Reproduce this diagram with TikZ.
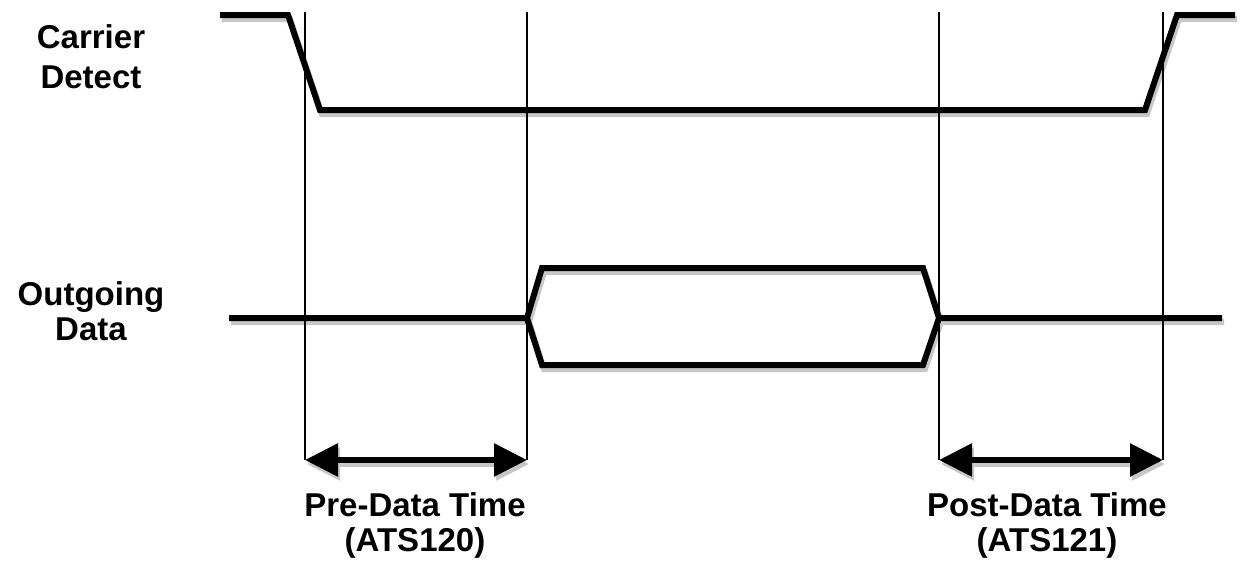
\documentclass[tikz,border=0pt]{standalone}
\usepackage{fontspec}
\setmainfont{Liberation Sans}
\usetikzlibrary{arrows.meta}
\tikzset{
  signal/.style={line width=6pt},
  marker/.style={line width=1.2pt},
  span/.style={line width=6pt, {Triangle[length=33pt,width=32pt]}-{Triangle[length=33pt,width=32pt]}},
  sigtext/.style={font=\fontsize{33}{35}\selectfont\bfseries, align=center, inner sep=0pt}
}
\begin{document}
\begin{tikzpicture}[x=1pt,y=-1pt]
\useasboundingbox (0,0) rectangle (1243,563);
\foreach \x [count=\i] in {305,527,939,1163} {
  \coordinate (top\i) at (\x,12);
  \coordinate (bot\i) at (\x,460);
}
\node[sigtext, font=\fontsize{33}{40}\selectfont\bfseries] (carrier) at (91,57) {Carrier\\Detect};
\node[sigtext] (outdata) at (91,311) {Outgoing\\Data};
% grey shadow first, then the black lines
\foreach \sx/\sy/\ink in {2/-4/black!22, 0/0/black} {
  \begin{scope}[transform canvas={xshift=\sx pt,yshift=\sy pt}, draw=\ink, fill=\ink]
    \draw[signal] (220,15) -- (288,15) -- (320,110) -- (1145,110) -- (1177,15) -- (1235,15);
    \draw[signal] (229,318) -- (527,318) -- (542,268) -- (923,268) -- (939,318) -- (1222,318);
    \draw[signal] (527,318) -- (542,365) -- (923,365) -- (939,318);
    \draw[span] (bot1) -- (bot2);
    \draw[span] (bot3) -- (bot4);
  \end{scope}
}
\foreach \i in {1,...,4}
  \draw[marker] (top\i) -- (bot\i);
\node[sigtext] (predata) at (415,525) {Pre-Data Time\\(ATS120)};
\node[sigtext] (postdata) at (1047,525) {Post-Data Time\\(ATS121)};
\end{tikzpicture}
\end{document}
